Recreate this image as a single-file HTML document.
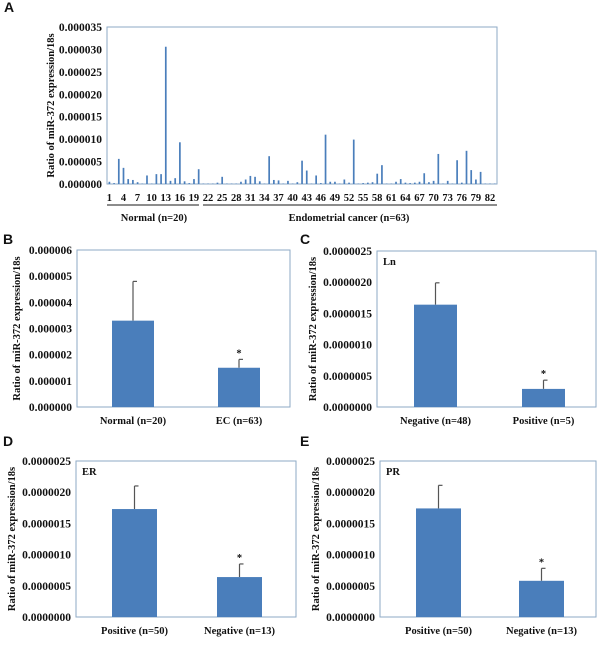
<!DOCTYPE html>
<html><head><meta charset="utf-8">
<style>
html,body{margin:0;padding:0;background:#fff;}
svg{display:block;}
.t{font-family:"Liberation Serif","Times New Roman",serif;font-size:10.5px;font-weight:bold;fill:#111;}
.yt{font-size:11.5px;}
.pl{font-family:"Liberation Sans",sans-serif;font-size:14px;font-weight:bold;fill:#111;}
</style></head>
<body>
<svg id="fig" width="600" height="654" viewBox="0 0 600 654" xmlns="http://www.w3.org/2000/svg"></svg>
<script>
// Panel A data (units of 1e-6)
const aValues=[0.5,0.2,5.6,3.6,1.1,0.9,0.4,0.1,1.9,0.1,2.2,2.2,30.6,0.7,1.3,9.3,0.6,0.2,1.1,3.3,
0.1,0.1,0.1,0.3,1.6,0.1,0.1,0.1,0.5,1.0,1.8,1.6,0.6,0.1,6.2,0.9,0.8,0.1,0.7,0.1,0.4,5.2,3.0,0.1,1.9,0.2,11.0,0.5,0.5,0.1,1.0,0.3,9.9,0.1,0.2,0.3,0.4,2.3,4.2,0.1,0.1,0.5,1.1,0.3,0.2,0.3,0.5,2.4,0.4,0.7,6.7,0.1,0.7,0.1,5.3,0.3,7.4,3.1,1.0,2.7,0.1,0.1,0.1];
const aTicks=["0.000000","0.000005","0.000010","0.000015","0.000020","0.000025","0.000030","0.000035"];
const bCats=["Normal (n=20)","EC (n=63)"];
const bMeans=[3.3,1.5];
const bErr=[4.8,1.82];
const bTicks=["0.000000","0.000001","0.000002","0.000003","0.000004","0.000005","0.000006"];
const cCats=["Negative (n=48)","Positive (n=5)"];
const cMeans=[1.64,0.29];
const cErr=[1.99,0.43];
const dCats=["Positive (n=50)","Negative (n=13)"];
const dMeans=[1.73,0.64];
const dErr=[2.10,0.85];
const eCats=["Positive (n=50)","Negative (n=13)"];
const eMeans=[1.74,0.58];
const eErr=[2.11,0.78];
const smallTicks=["0.0000000","0.0000005","0.0000010","0.0000015","0.0000020","0.0000025"];

const NS="http://www.w3.org/2000/svg";
const svg=document.getElementById('fig');
function mk(tag,attrs,parent,text){const e=document.createElementNS(NS,tag);for(const k in attrs)e.setAttribute(k,attrs[k]);if(text!==undefined)e.textContent=text;(parent||svg).appendChild(e);return e;}
const BLUE="#4a7ebb", FRAME="#8eaac6";

function yTitle(g,x,y){
  const t=mk('text',{x:x,y:y,class:'t','text-anchor':'middle','font-size':'11',transform:'rotate(-90 '+x+' '+y+')'},g,'Ratio of miR-372 expression/18s');
  
}

// Panel A
(function(){
  const g=mk('g',{});
  const L=107,R=497,T=27,B=184,maxV=35;
  const y=v=>B-(v/maxV)*(B-T);
  const band=(R-L)/aValues.length;
  const x=i=>L+band*(i+0.5);
  const pl=mk('text',{x:4,y:12,class:'pl'},g,'A');
  const fr=mk('rect',{x:L,y:T,width:R-L,height:B-T,fill:'none',stroke:FRAME,'stroke-width':1},g);
  
  aTicks.forEach((s,i)=>{const v=i*5;const t=mk('text',{x:L-5,y:y(v)+4,class:'t yt','text-anchor':'end'},g,s);
    });
  aValues.forEach((v,i)=>{const r=mk('rect',{x:x(i)-0.8,y:y(v),width:1.7,height:B-y(v),fill:BLUE},g);
    });
  for(let i=0;i<82;i+=3){const t=mk('text',{x:x(i),y:201,class:'t','text-anchor':'middle','font-size':'11.5'},g,String(i+1));
    }
  const l1=mk('line',{x1:L,x2:L+band*20-2,y1:205,y2:205,stroke:'#666','stroke-width':1.6},g);
  
  const l2=mk('line',{x1:L+band*20+2,x2:R,y1:205,y2:205,stroke:'#666','stroke-width':1.6},g);
  
  const g1=mk('text',{x:(L+L+band*20)/2,y:221,class:'t','text-anchor':'middle','font-size':'11'},g,'Normal (n=20)');
  
  const g2=mk('text',{x:(L+band*20+R)/2,y:221,class:'t','text-anchor':'middle','font-size':'11'},g,'Endometrial  cancer (n=63)');
  
  yTitle(g,54,(T+B)/2);
})();

function barPanel(o){
  const g=mk('g',{});
  const {L,R,T,B,maxV,ticks,step,cats,means,errs,bars}=o;
  const y=v=>B-(v/maxV)*(B-T);
  const pl=mk('text',{x:o.lx,y:o.ly,class:'pl'},g,o.letter);
  const fr=mk('rect',{x:L,y:T,width:R-L,height:B-T,fill:'none',stroke:FRAME,'stroke-width':1},g);
  
  ticks.forEach((s,i)=>{const t=mk('text',{x:L-5,y:y(i*step)+4,class:'t yt','text-anchor':'end'},g,s);
    });
  means.forEach((m,i)=>{
    const bx=bars[i],bw=o.bw,cx=bx+bw/2;
    const e=mk('line',{x1:cx,x2:cx,y1:y(errs[i]),y2:y(m),stroke:'#555','stroke-width':1.2},g);
    
    const c=mk('line',{x1:cx,x2:cx+4,y1:y(errs[i]),y2:y(errs[i]),stroke:'#555','stroke-width':1.2},g);
    
    const r=mk('rect',{x:bx,y:y(m),width:bw,height:B-y(m),fill:BLUE},g);
    
    const t=mk('text',{x:cx,y:o.xly,class:'t','text-anchor':'middle','font-size':'11.5'},g,cats[i]);
    
    if(i===1){const s=mk('text',{x:cx,y:y(errs[i])-3,class:'t','text-anchor':'middle','font-size':'13'},g,'*');
      }
  });
  if(o.tag){const t=mk('text',{x:L+6,y:T+14,class:'t','font-size':'11.5'},g,o.tag);
    }
  yTitle(g,o.tx,(T+B)/2);
}
barPanel({letter:'B',lx:3,ly:244,L:77,R:290,T:250,B:407,maxV:6,step:1,ticks:bTicks,cats:bCats,means:bMeans,errs:bErr,bars:[112,218],bw:42,xly:424,tx:20});
barPanel({letter:'C',lx:300,ly:244,L:377,R:596,T:251,B:407,maxV:2.5,step:0.5,ticks:smallTicks,cats:cCats,means:cMeans,errs:cErr,bars:[414,522],bw:43,xly:424,tx:316,tag:'Ln'});
barPanel({letter:'D',lx:3,ly:446,L:76,R:296,T:461,B:617,maxV:2.5,step:0.5,ticks:smallTicks,cats:dCats,means:dMeans,errs:dErr,bars:[112,217],bw:45,xly:634,tx:15,tag:'ER'});
barPanel({letter:'E',lx:300,ly:446,L:380,R:596,T:461,B:617,maxV:2.5,step:0.5,ticks:smallTicks,cats:eCats,means:eMeans,errs:eErr,bars:[416,519],bw:45,xly:634,tx:319,tag:'PR'});
</script>
</body></html>
